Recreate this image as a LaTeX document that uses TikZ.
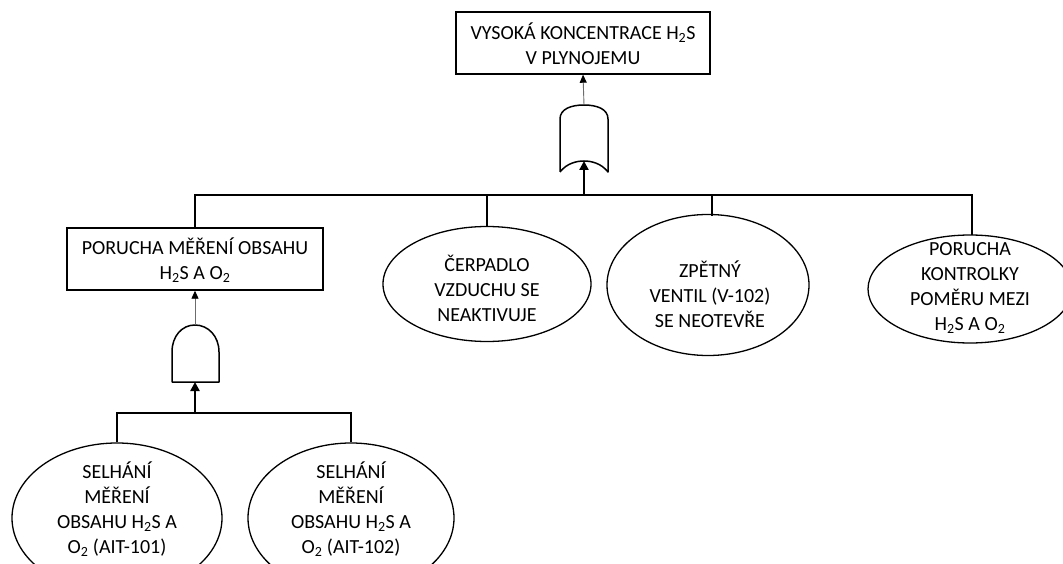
\documentclass[tikz,border=0pt]{standalone}
\usepackage{fontspec}
\setmainfont{Carlito}
\usetikzlibrary{arrows.meta,shapes.geometric}

\tikzset{
  txt/.style={align=center, inner sep=0pt, font=\fontsize{20}{25}\selectfont},
  eventbox/.style={draw, line width=1.4pt, rectangle, inner sep=0pt},
  basic/.style={draw, line width=1.3pt, ellipse, inner sep=0pt},
  wire/.style={line width=1.3pt},
  gatebody/.style={line width=1.5pt, line join=round},
  outlink/.style={draw=gray!85!black, line width=0.9pt,
    -{Triangle[length=8pt, width=7pt, fill=black, color=black]}},
  inlink/.style={line width=2.4pt,
    -{Triangle[length=9pt, width=9pt]}},
}

\newcommand{\sub}[1]{\textsubscript{#1}}

\begin{document}
\begin{tikzpicture}[x=1pt, y=-1pt]
  \useasboundingbox (0,0) rectangle (1063,564);

  % ---- top event ----
  \node[eventbox, minimum width=254pt, minimum height=62pt] (top) at (583,43) {};
  \node[txt] (topt) at (583,44) {VYSOKÁ KONCENTRACE H\sub{2}S\\V PLYNOJEMU};

  % ---- OR gate ----
  \coordinate (orout) at (584,105);
  \coordinate (orin) at (584,161);
  \draw[gatebody] (560,172) -- (560,119)
     .. controls (560,109) and (571,105) .. (orout)
     .. controls (597,105) and (608,109) .. (608,119)
     -- (608,172)
     .. controls (601,163) and (591,161) .. (orin)
     .. controls (577,161) and (567,163) .. (560,172);
  \draw[outlink] (orout) -- (top.south);

  % ---- intermediate event ----
  \node[eventbox, minimum width=256pt, minimum height=62pt] (mid) at (195,259) {};
  \node[txt] (midt) at (195,260) {PORUCHA MĚŘENÍ OBSAHU\\H\sub{2}S A O\sub{2}};

  % ---- basic events, first level ----
  \node[basic, minimum width=208pt, minimum height=115pt] (cerp) at (487,284) {};
  \node[txt] (cerpt) at (487,288) {ČERPADLO\\VZDUCHU SE\\NEAKTIVUJE};

  \node[basic, minimum width=202pt, minimum height=141pt] (zpet) at (708,285) {};
  \node[txt] (zpett) at (710,294) {ZPĚTNÝ\\VENTIL (V-102)\\SE NEOTEVŘE};

  \node[basic, minimum width=204pt, minimum height=108pt] (kont) at (970,289) {};
  \node[txt] (kontt) at (970,288) {PORUCHA\\KONTROLKY\\POMĚRU MEZI\\H\sub{2}S A O\sub{2}};

  % ---- upper bus ----
  \coordinate (bus) at (584,195);
  \draw[wire] (mid.north) |- (bus) -| (972,235);
  \draw[wire] (487,195) -- (cerp.north);
  \draw[wire] (712,195) -- (712,216);
  \draw[inlink] (bus) -- (orin);

  % ---- AND gate ----
  \coordinate (andout) at (195,325);
  \coordinate (andin) at (195,382);
  \draw[gatebody] (172,382) -- (172,352)
     .. controls (172,336) and (182,325) .. (andout)
     .. controls (208,325) and (219,336) .. (219,352)
     -- (219,382) -- cycle;
  \draw[outlink] (andout) -- (mid.south);

  % ---- basic events, second level ----
  \node[basic, minimum width=210pt, minimum height=150pt] (ait1) at (117,518) {};
  \node[txt] (ait1t) at (117,509) {SELHÁNÍ\\MĚŘENÍ\\OBSAHU H\sub{2}S A\\O\sub{2} (AIT-101)};

  \node[basic, minimum width=206pt, minimum height=150pt] (ait2) at (351,518) {};
  \node[txt] (ait2t) at (351,509) {SELHÁNÍ\\MĚŘENÍ\\OBSAHU H\sub{2}S A\\O\sub{2} (AIT-102)};

  % ---- lower bus ----
  \coordinate (lbus) at (195,413);
  \draw[wire] (ait1.north) |- (lbus) -| (ait2.north);
  \draw[inlink] (lbus) -- (andin);
\end{tikzpicture}
\end{document}
